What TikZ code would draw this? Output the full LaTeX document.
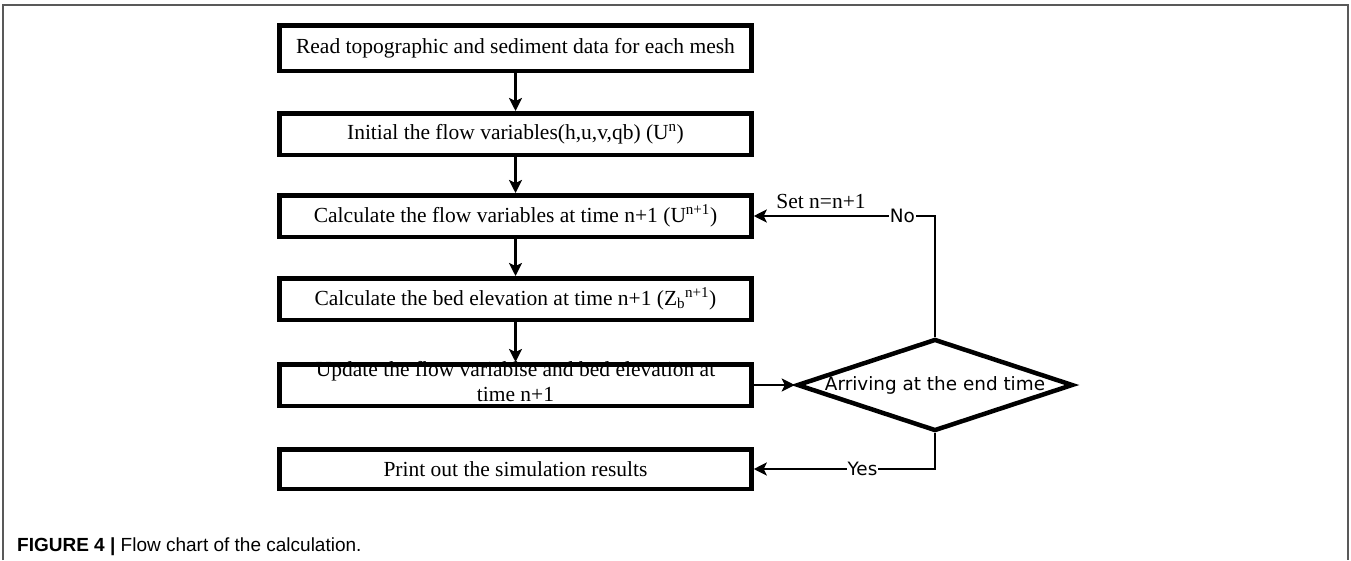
\documentclass[tikz,border=0pt]{standalone}
\usepackage{fontspec}
\setmainfont{Liberation Serif}
\newfontfamily\labelfont{DejaVu Sans}
\newfontfamily\captionfont{Liberation Sans}
\usepackage{tikz}
\usetikzlibrary{shapes.geometric,arrows.meta}

\tikzset{
  stepbox/.style={draw, line width=4.5pt, fill=white, minimum width=472pt, minimum height=41.5pt, inner sep=0pt, font=\fontsize{21.5}{25}\selectfont},
  flowline/.style={line width=2.4pt, -{Stealth[length=13pt,width=13pt,inset=3pt]}},
  answer/.style={fill=white, inner sep=1pt, font=\labelfont\fontsize{18.4}{20}\selectfont}
}

\begin{document}
\begin{tikzpicture}[x=1pt,y=-1pt]
\useasboundingbox (0,0) rectangle (1351,560);
\draw[line width=1.5pt, gray!70!black] (3,560) -- (3,5) -- (1348,5) -- (1348,560);

\node[stepbox, minimum height=45.5pt] (read) at (515.5,48) {Read topographic and sediment data for each mesh};
\node[stepbox] (init) at (515.5,134) {Initial the flow variables(h,u,v,qb) (U\textsuperscript{n})};
\node[stepbox] (flow) at (515.5,216) {Calculate the flow variables at time n+1 (U\textsuperscript{n+1})};
\node[stepbox] (bed) at (515.5,299) {Calculate the bed elevation at time n+1 (Z\textsubscript{b}\textsuperscript{n+1})};
\node[stepbox] (update) at (515.5,385) {\smash{\raisebox{-4pt}{\begin{tabular}{@{}c@{}}Update the flow variablse and bed elevation at\\[0pt]time n+1\end{tabular}}}};
\node[stepbox, minimum height=39.5pt] (print) at (515.5,469) {Print out the simulation results};
\node[diamond, draw, line width=4.5pt, fill=white, aspect=3, minimum width=276pt, minimum height=92pt, inner sep=0pt] (arrive) at (935,385) {};
\node[font=\labelfont\fontsize{18.4}{20}\selectfont, inner sep=0pt] (arrivetext) at (arrive.center) {Arriving at the end time};

\draw[flowline] (read) -- (init);
\draw[flowline] (init) -- (flow);
\draw[flowline] (flow) -- (bed);
\draw[flowline] (bed) -- (update);
\draw[flowline] (update) -- (arrive);
\draw[flowline] (arrive.north) |- node[answer, pos=0.59] (no) {No} (flow.east);
\draw[flowline] (arrive.south) |- node[answer, pos=0.7] (yes) {Yes} (print.east);
\node[anchor=base, inner sep=0pt, font=\fontsize{21.5}{25}\selectfont] (setn) at (821,208) {Set n=n+1};

\node[anchor=base west, inner sep=0pt, font=\captionfont\fontsize{19}{21}\selectfont] (caption) at (17,551) {\textbf{FIGURE 4 |} Flow chart of the calculation.};
\end{tikzpicture}
\end{document}
